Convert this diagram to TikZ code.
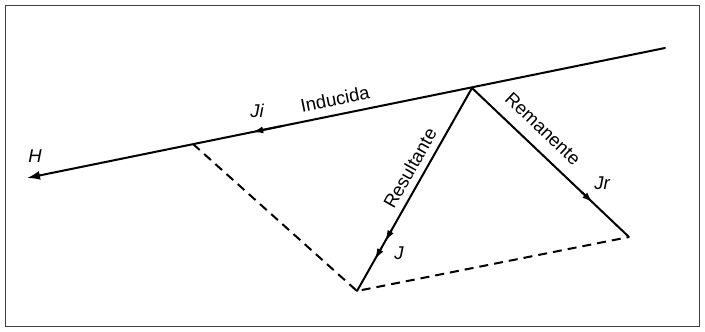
\documentclass[tikz,border=0pt]{standalone}
\usepackage{fontspec}
\setmainfont{Liberation Sans}
\usetikzlibrary{arrows.meta,calc}
\tikzset{
  vec/.style={line width=2pt, line cap=round},
  dsh/.style={line width=2pt, dash pattern=on 9pt off 6pt},
  lbl/.style={font=\fontsize{18.5}{21}\selectfont, inner sep=0pt},
  ilbl/.style={font=\fontsize{18.5}{21}\selectfont\itshape, inner sep=0pt},
  tipm/.tip={Latex[length=11pt,width=7pt]},
  marrow/.style={line width=2pt, -{tipm}},
}
\begin{document}
\begin{tikzpicture}[x=1pt,y=-1pt]
\useasboundingbox (0,0) rectangle (705,332);
\fill[white] (0,0) rectangle (705,332);
\draw[line width=1.3pt, black!75] (5.5,5.5) rectangle (699.5,326.5);
% points
\coordinate (E) at (665,48);
\coordinate (Ht) at (27,178);
\coordinate (P) at (472,88);
\coordinate (Q) at (193,144);
\coordinate (B) at (357,291);
\coordinate (R) at (629,237);
% lines
\draw[vec, -{Latex[length=13pt,width=9pt]}] (E) -- (Ht);
\draw[vec] (P) -- (B);
\draw[vec] (P) -- (R);
\draw[dsh] (Q) -- (B) -- (R);
% mid arrowheads
\draw[marrow] ($(E)!0.60!(Ht)$) -- ($(E)!0.647!(Ht)$);
\draw[marrow] ($(P)!0.70!(B)$) -- ($(P)!0.755!(B)$);
\draw[marrow] ($(P)!0.79!(B)$) -- ($(P)!0.845!(B)$);
\draw[marrow] ($(P)!0.70!(R)$) -- ($(P)!0.77!(R)$);
% labels
\node[ilbl] (lH) at (35,156) {H};
\node[ilbl] (lJi) at (257,111) {Ji};
\node[lbl, rotate=11.55] (lInd) at (335,99) {Inducida};
\node[lbl, rotate=60.5] (lRes) at (410,168) {Resultante};
\node[lbl, rotate=-43.5] (lRem) at (543,129) {Remanente};
\node[ilbl] (lJ) at (399,253) {J};
\node[ilbl] (lJr) at (602,183) {Jr};
\end{tikzpicture}
\end{document}
